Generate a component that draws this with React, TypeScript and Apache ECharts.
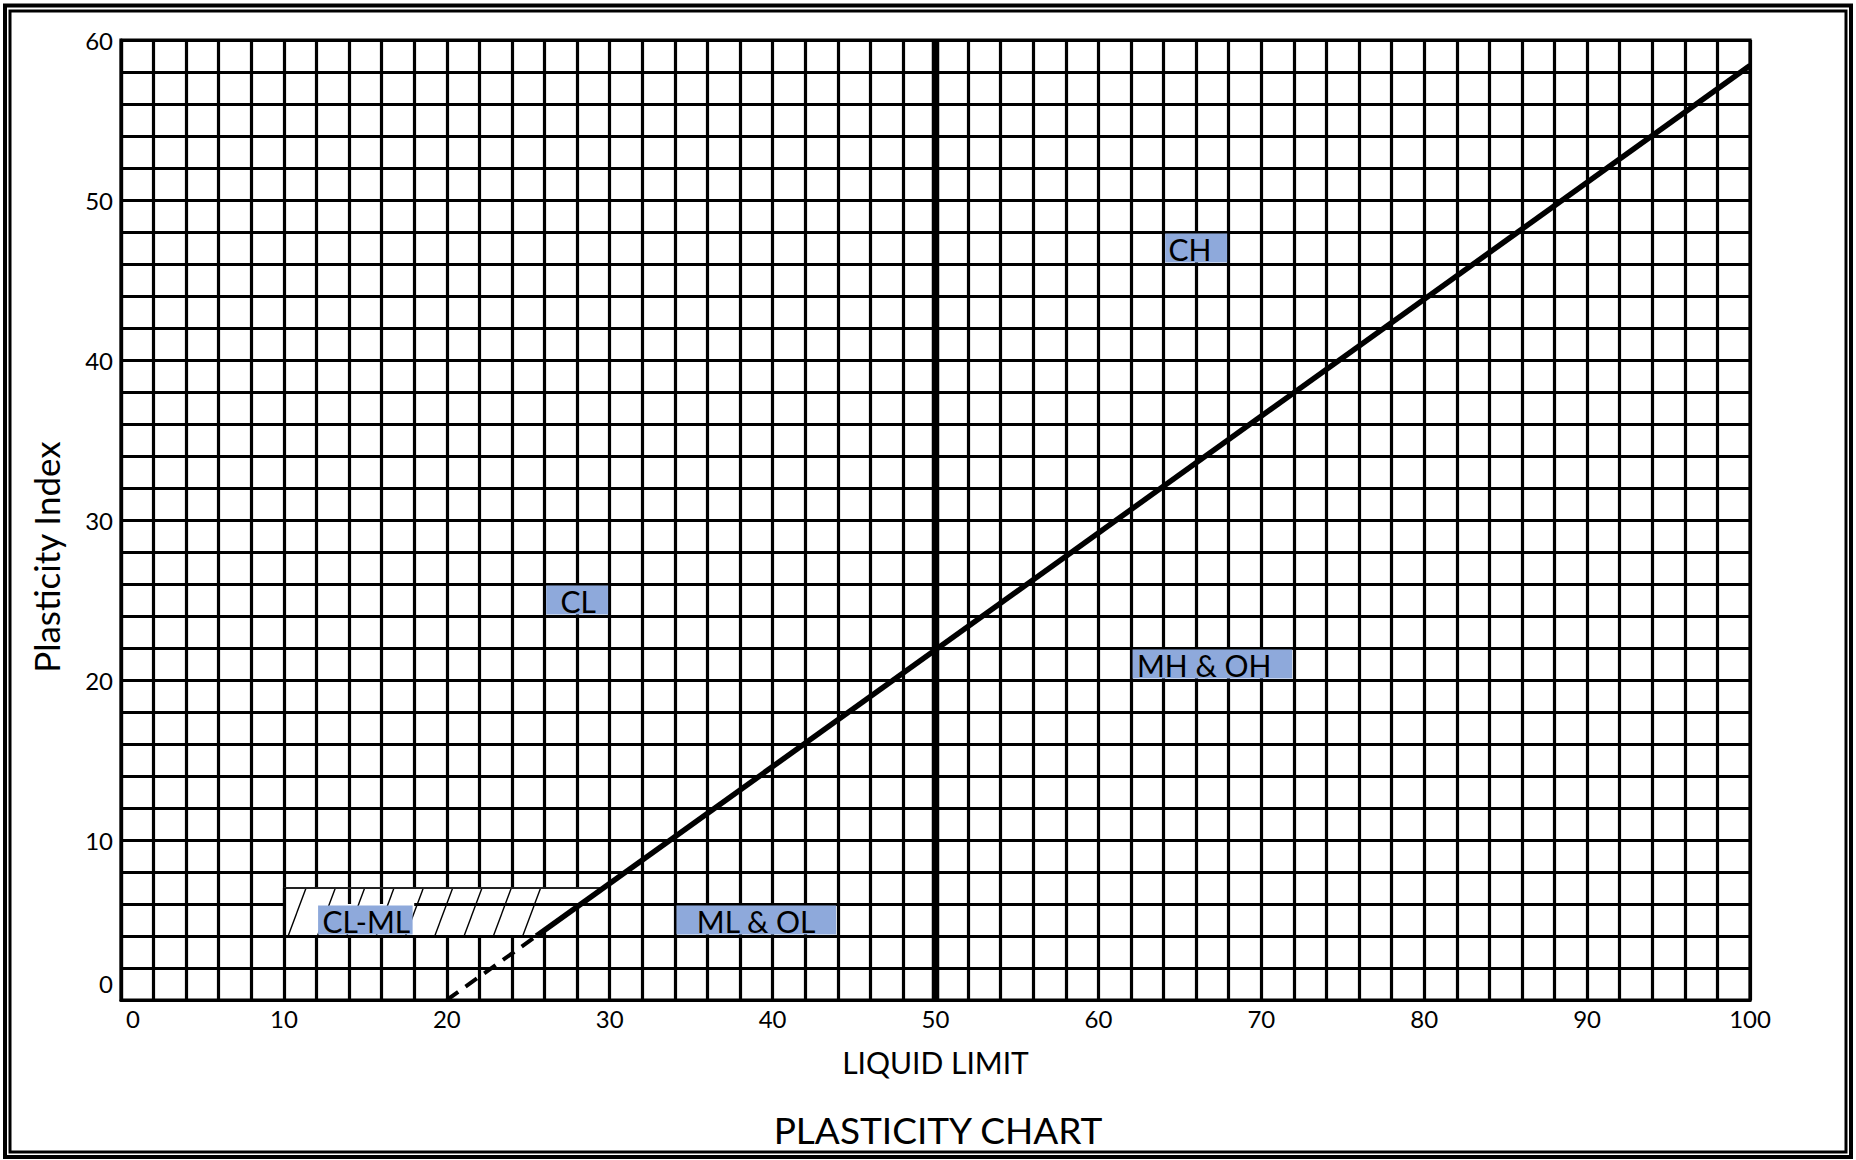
import React, { useEffect, useRef } from "react";
import * as echarts from "echarts";

const FONT = "Lato, 'Noto Sans', sans-serif";

// Axis extents
const X_MIN = 0;
const X_MAX = 100;
const Y_MIN = 0;
const Y_MAX = 60;

// A-line (PI = 0.73 (LL - 20))
const aLineSolid: [number, number][] = [
  [25.5, 4],
  [100, 58.4],
];
const aLineDashed: [number, number][] = [
  [20, 0],
  [25.5, 4],
];

// Vertical line at LL = 50
const vLine: [number, number][] = [
  [50, 0],
  [50, 60],
];

// CL-ML hatched zone outline
const boxX = [10, 25.5, 29.6, 10];
const boxY = [4, 4, 7, 7];

// Hatch line ends (bottom at PI=4, top at PI=7)
const hatchBottomX = [10.26, 12.06, 13.86, 15.66, 17.46, 19.26, 21.06, 22.86, 24.66];
const hatchTopX = [11.36, 13.16, 14.96, 16.76, 18.56, 20.36, 22.16, 23.96, 25.76];

// Grid fragments still visible inside the hatched zone
const gridBits: [number, number][][] = [
  [
    [14, 6],
    [14, 7],
  ],
  [
    [16, 6],
    [16, 7],
  ],
  [
    [18, 6],
    [28.2, 6],
  ],
];

// Zone labels (cell-aligned boxes)
const zoneLabels = ["CH", "CL", "MH & OH", "ML & OL", "CL-ML"];
const zoneX0 = [64, 26, 62, 34, 12];
const zoneX1 = [68, 30, 72, 44, 18];
const zoneY0 = [46, 24, 20, 4, 4];
const zoneY1 = [48, 26, 22, 6, 6];
// text inset from the left side of each label box (px)
const zoneTextInset = [5, 16, 6, 22, 6];

function buildOption() {
  const black = "#000";
  const gridLine = { color: black, width: 3.2 };

  return {
    animation: false,
    backgroundColor: "#fff",
    textStyle: { fontFamily: FONT },
    title: {
      text: "PLASTICITY CHART",
      left: 933,
      top: 1106,
      textAlign: "center",
      textStyle: { fontSize: 37, fontWeight: "normal", color: black, fontFamily: FONT },
    },
    graphic: [
      {
        type: "rect",
        shape: { x: 5, y: 5.5, width: 1846, height: 1151.5 },
        style: { fill: "none", stroke: black, lineWidth: 4 },
        silent: true,
      },
      {
        type: "rect",
        shape: { x: 10, y: 11, width: 1836, height: 1141 },
        style: { fill: "none", stroke: black, lineWidth: 3 },
        silent: true,
      },
    ],
    grid: {
      left: 121,
      right: 106,
      top: 40,
      bottom: 160,
      show: true,
      borderColor: black,
      borderWidth: 3.2,
    },
    xAxis: {
      type: "value",
      min: X_MIN,
      max: X_MAX,
      interval: 10,
      name: "LIQUID LIMIT",
      nameLocation: "middle",
      nameGap: 47,
      nameTextStyle: { fontSize: 30, color: black, fontFamily: FONT },
      axisLine: { show: true, lineStyle: gridLine },
      axisTick: { show: false },
      axisLabel: {
        fontSize: 24,
        color: black,
        fontFamily: FONT,
        margin: 6,
        formatter: (v: number) => (v === 0 ? "{z|0}" : String(v)),
        rich: {
          z: { fontSize: 24, color: black, fontFamily: FONT, padding: [0, 0, 0, 24] },
        },
      },
      splitLine: { show: true, lineStyle: gridLine },
      minorTick: { show: false, splitNumber: 5 },
      minorSplitLine: { show: true, lineStyle: gridLine },
    },
    yAxis: {
      type: "value",
      min: Y_MIN,
      max: Y_MAX,
      interval: 10,
      name: "Plasticity Index",
      nameLocation: "middle",
      nameGap: 58,
      nameRotate: 90,
      nameTextStyle: {
        fontSize: 35,
        color: black,
        fontFamily: FONT,
        padding: [0, 74, 0, 0],
      },
      axisLine: { show: true, lineStyle: gridLine },
      axisTick: { show: false },
      axisLabel: {
        fontSize: 24,
        color: black,
        fontFamily: FONT,
        margin: 8,
        formatter: (v: number) => (v === 0 ? "{z|0}" : String(v)),
        rich: {
          z: { fontSize: 24, color: black, fontFamily: FONT, padding: [0, 0, 34, 0] },
        },
      },
      splitLine: { show: true, lineStyle: gridLine },
      minorTick: { show: false, splitNumber: 5 },
      minorSplitLine: { show: true, lineStyle: gridLine },
    },
    series: [
      // white fill of the CL-ML zone (hides grid inside)
      {
        type: "custom",
        silent: true,
        data: [[boxX[0], boxY[0]]],
        renderItem: (_params: any, api: any) => {
          const pts = boxX.map((x, i) => api.coord([x, boxY[i]]));
          return { type: "polygon", shape: { points: pts }, style: { fill: "#fff" } };
        },
      },
      // grid fragments visible inside zone
      {
        type: "lines",
        coordinateSystem: "cartesian2d",
        silent: true,
        lineStyle: { color: black, width: 3.2, opacity: 1 },
        data: gridBits.map((c) => ({ coords: c })),
      },
      // hatch lines
      {
        type: "lines",
        coordinateSystem: "cartesian2d",
        silent: true,
        lineStyle: { color: black, width: 1.4, opacity: 1 },
        data: hatchBottomX.map((x, i) => ({
          coords: [
            [x, boxY[0]],
            [hatchTopX[i], boxY[2]],
          ],
        })),
      },
      // zone outline edges
      {
        type: "lines",
        coordinateSystem: "cartesian2d",
        silent: true,
        lineStyle: { color: black, width: 3.2, opacity: 1 },
        data: [
          {
            coords: [
              [boxX[3], boxY[3]],
              [boxX[2], boxY[2]],
            ],
            lineStyle: { color: "#222", width: 2 },
          },
          {
            coords: [
              [boxX[0], boxY[0]],
              [boxX[3], boxY[3]],
            ],
          },
          {
            coords: [
              [boxX[0], boxY[0]],
              [boxX[1], boxY[1]],
            ],
          },
        ],
      },
      // zone labels
      {
        type: "custom",
        silent: true,
        encode: { x: [0, 1], y: [2, 3] },
        data: zoneLabels.map((_, i) => [zoneX0[i], zoneX1[i], zoneY0[i], zoneY1[i]]),
        renderItem: (params: any, api: any) => {
          const x0 = api.value(0);
          const x1 = api.value(1);
          const y0 = api.value(2);
          const y1 = api.value(3);
          const p0 = api.coord([x0, y1]);
          const p1 = api.coord([x1, y0]);
          return {
            type: "group",
            children: [
              {
                type: "rect",
                shape: {
                  x: p0[0] + 1.6,
                  y: p0[1] + 1.6,
                  width: p1[0] - p0[0] - 3.2,
                  height: p1[1] - p0[1] - 3.2,
                },
                style: { fill: "#8EA9DB" },
              },
              {
                type: "text",
                style: {
                  text: zoneLabels[params.dataIndex],
                  x: p0[0] + zoneTextInset[params.dataIndex],
                  y: (p0[1] + p1[1]) / 2 + 1,
                  align: "left",
                  verticalAlign: "middle",
                  fontSize: 30,
                  fontFamily: FONT,
                  fill: black,
                },
              },
            ],
          };
        },
      },
      // LL = 50 line
      {
        type: "line",
        data: vLine,
        showSymbol: false,
        silent: true,
        lineStyle: { color: black, width: 7.5, cap: "butt" },
      },
      // A-line dashed extension
      {
        type: "line",
        data: aLineDashed,
        showSymbol: false,
        silent: true,
        lineStyle: { color: black, width: 4, type: [14, 9], cap: "butt" },
      },
      // A-line
      {
        type: "line",
        data: aLineSolid,
        showSymbol: false,
        silent: true,
        lineStyle: { color: black, width: 5.5, cap: "butt" },
      },
    ],
  };
}

export default function App() {
  const ref = useRef<HTMLDivElement>(null);
  useEffect(() => {
    if (!ref.current) return;
    const chart = echarts.init(ref.current, null, { renderer: "svg" });
    chart.setOption(buildOption() as any);
    return () => chart.dispose();
  }, []);
  return (
    <div
      ref={ref}
      style={{ position: "fixed", left: 0, top: 0, width: 1856, height: 1160, background: "#fff" }}
    />
  );
}
